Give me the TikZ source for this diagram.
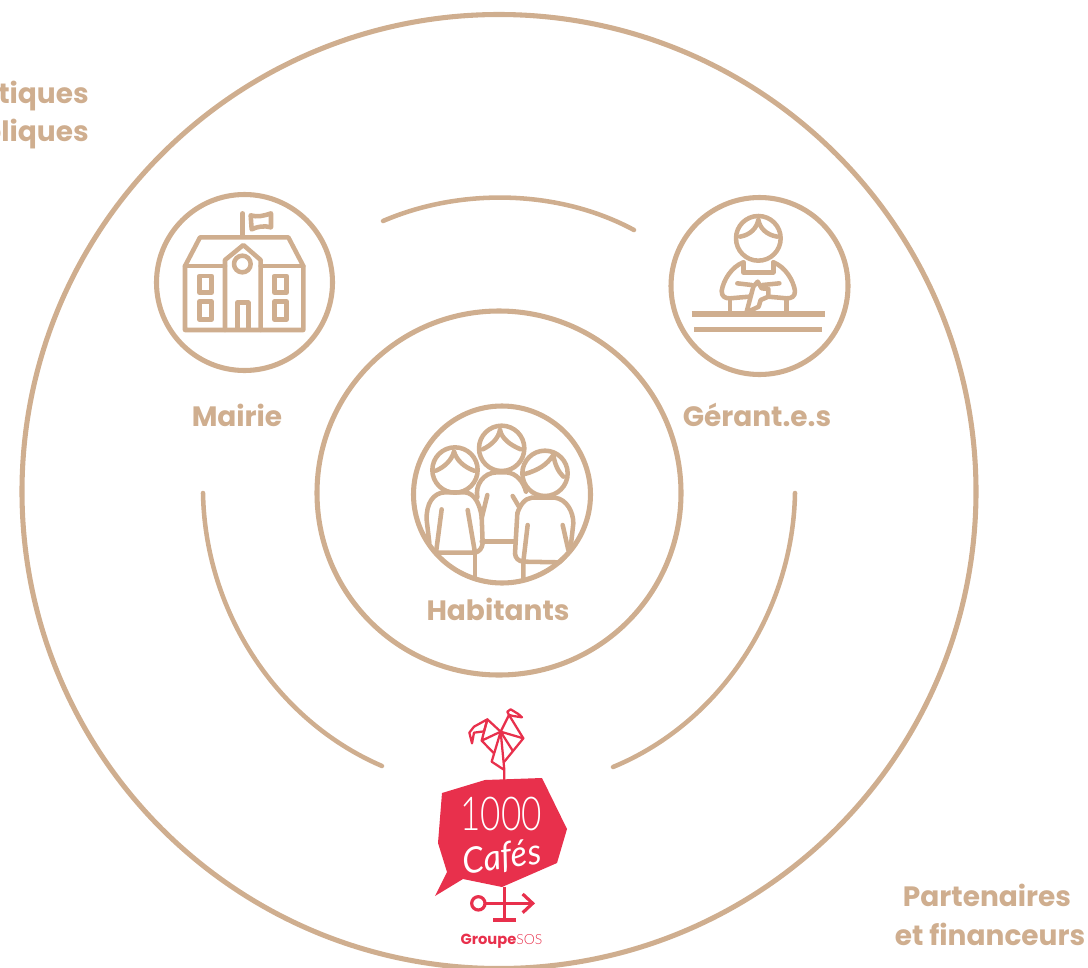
\documentclass[tikz,border=0pt]{standalone}
\usepackage{fontspec}
\setmainfont{Poppins}
\newfontfamily\logofont{Lato Light}
\newfontfamily\cafefont{Lato}
\usetikzlibrary{calc}
\definecolor{tan}{RGB}{207,174,143}
\definecolor{logored}{RGB}{232,48,76}
\tikzset{
  x=0.75pt,y=-0.75pt,
  ring/.style={circle,draw=tan,line width=3.8pt,minimum size=#1*0.75pt,inner sep=0pt},
  bigarc/.style={draw=tan,line width=3.4pt,line cap=round},
  ico/.style={draw=tan,line width=3.4pt,line cap=round,line join=round},
  lab/.style={text=tan,font=\bfseries\fontsize{21}{21}\selectfont,inner sep=0pt,anchor=base},
  rooster/.style={draw=logored,line width=1.7pt,line join=round,line cap=round},
  vane/.style={draw=logored,line width=2.4pt,line cap=butt},
}
\begin{document}
\begin{tikzpicture}
\useasboundingbox (0,0) rectangle (1088,967);
\clip (0,0) rectangle (1088,967);
% rings
\node[ring=954] (outer) at (499,491.5) {};
\node[ring=364] (inner) at (499,493) {};
\node[ring=176] (mairie) at (244.5,282.5) {};
\node[ring=177] (gerant) at (759.5,286) {};
\node[ring=177] (habit) at (502,494.5) {};
% arcs
\draw[bigarc] (383,221) .. controls (462,187) and (560,190) .. (634,230);
\draw[bigarc] (203,493) .. controls (205,610) and (275,720) .. (382,766);
\draw[bigarc] (795,493) .. controls (793,610) and (722,722) .. (613,767);
% labels
\node[lab] (lm) at (237,426) {Mairie};
\node[lab] (lg) at (757,426) {Gérant.e.s};
\node[lab] (lh) at (498,620) {Habitants};
\node[lab,anchor=base east] (l1) at (89,103) {tiques};
\node[lab,anchor=base east] (l2) at (89,141) {bliques};
\node[lab] (l3) at (987,906) {Partenaires};
\node[lab] (l4) at (990,945) {et financeurs};
% Mairie icon
\begin{scope}[shift={(140,180)},scale=1/3]
\draw[ico] (135,258) -- (135,450) -- (490,450) -- (490,258) -- (445,172) -- (180,172) -- cycle;
\draw[ico] (135,258) -- (255,258) (362,258) -- (490,258);
\draw[ico] (255,450) -- (255,240) -- (310,195) -- (362,240) -- (362,450);
\draw[ico] (307,252) circle (25);
\draw[ico] (292,445) -- (292,368) -- (325,368) -- (325,445);
\draw[ico] (178,288) rectangle (215,338);
\draw[ico] (178,365) rectangle (215,418);
\draw[ico] (403,288) rectangle (440,338);
\draw[ico] (403,365) rectangle (440,418);
\draw[ico] (308,170) -- (308,100);
\draw[ico] (332,106) .. controls (352,112) and (370,108) .. (393,100) -- (393,142) .. controls (372,136) and (352,140) .. (335,148) -- cycle;
\end{scope}
% Gerant icon
\begin{scope}[shift={(660,185)},scale=1/3]
\draw[ico] (295,160) circle (67);
\draw[ico] (295,105) .. controls (290,130) and (270,150) .. (240,155);
\draw[ico] (295,105) .. controls (300,130) and (320,150) .. (352,155);
\draw[ico] (250,232) .. controls (215,245) and (190,285) .. (185,318) .. controls (185,335) and (195,340) .. (210,340) -- (268,335);
\draw[ico] (340,232) .. controls (375,245) and (400,285) .. (405,318) .. controls (405,335) and (395,340) .. (380,340) -- (325,335);
\draw[ico] (250,232) -- (250,262) -- (340,262) -- (340,232);
\draw[ico] (232,295) -- (275,300);
\draw[ico] (358,295) -- (308,300);
\draw[ico] (260,380) -- (280,305) -- (293,290) -- (305,310) -- (325,312) -- (325,335) -- (302,345) -- (296,365) -- (275,375);
\draw[ico] (210,340) -- (210,380) (380,340) -- (380,380);
\draw[draw=tan,line width=4.2pt] (95,387) -- (495,387);
\draw[draw=tan,line width=4.2pt] (103,433) -- (487,433);
\end{scope}
% Habitants icon
\begin{scope}[shift={(400,410)},scale=1/3]
\draw[ico] (305,115) circle (68);
\draw[ico] (300,60) .. controls (295,85) and (275,105) .. (248,118);
\draw[ico] (300,60) .. controls (305,85) and (330,105) .. (362,118);
\draw[ico] (165,180) circle (68);
\draw[ico] (162,125) .. controls (155,150) and (135,170) .. (108,182);
\draw[ico] (162,125) .. controls (170,150) and (190,170) .. (222,182);
\draw[ico] (435,190) circle (68);
\draw[ico] (460,135) .. controls (440,165) and (415,180) .. (375,192);
\draw[ico] (460,135) .. controls (465,165) and (475,185) .. (490,200);
% middle body
\draw[ico] (232,262) .. controls (225,225) and (250,188) .. (290,187) -- (320,187) .. controls (350,190) and (370,215) .. (378,245);
\draw[ico] (262,255) -- (245,325);
\draw[ico] (338,258) -- (358,292);
\draw[ico] (245,395) -- (345,395);
% left body
\draw[ico] (88,398) -- (80,330) .. controls (78,280) and (100,248) .. (135,247) -- (195,247) .. controls (225,250) and (240,285) .. (245,320) -- (248,400) .. controls (246,415) and (238,425) .. (225,428);
\draw[ico] (125,298) -- (108,428) -- (225,428) -- (203,300);
\draw[ico] (225,428) -- (225,500);
% right body
\draw[ico] (352,310) .. controls (360,285) and (375,265) .. (395,263) -- (465,263) .. controls (500,268) and (520,305) .. (520,340) -- (512,412);
\draw[ico] (352,310) -- (345,430) .. controls (346,445) and (355,453) .. (370,455) -- (478,457) -- (495,440);
\draw[ico] (383,345) -- (370,455) -- (370,505);
\draw[ico] (488,345) -- (505,420);
\end{scope}
% Logo
\fill[logored] (442,793) -- (485,780) -- (542,778) -- (567,829) -- (557,863) -- (502,887) -- (463,879) -- (435,896) -- (447,872) -- (438,843) -- cycle;
\node[text=white,inner sep=0pt,font=\logofont\fontsize{35}{35}\selectfont,xscale=0.75] (t1) at (501,814) {1000};
\node[text=white,inner sep=0pt,font=\cafefont\itshape\fontsize{27}{27}\selectfont,rotate=8,xscale=0.95] (t2) at (502,858) {Cafés};
\node[text=logored,inner sep=0pt,anchor=base,font=\bfseries\fontsize{11}{11}\selectfont] (t3) at (501.5,944) {Groupe{\logofont\mdseries\fontsize{10.5}{10.5}\selectfont SOS}};
% rooster
\begin{scope}[shift={(460,700)},scale=1/3]
\draw[rooster] (133,240) -- (133,210) -- (95,185) -- (122,95) -- (133,210);
\draw[rooster] (133,185) -- (190,115) -- (122,95) -- (158,152);
\draw[rooster] (122,95) -- (82,58) -- (42,80) -- (28,98) -- (36,130) -- (42,98) -- (72,94) -- (82,58);
\draw[rooster] (82,58) -- (65,122) -- (122,95);
\draw[rooster] (65,122) -- (102,160);
\draw[rooster] (122,95) -- (147,45) -- (190,115);
\draw[rooster] (147,45) -- (142,35) -- (152,28) -- (175,42) -- (186,52) -- (160,48) -- cycle;
\end{scope}
% vane
\begin{scope}[shift={(420,820)},scale=1/3]
\draw[vane] (253,200) -- (253,300);
\draw[vane] (220,300) -- (288,300);
\draw[vane] (195,250) -- (338,250);
\draw[vane] (175,250) circle (20);
\draw[vane] (308,222) -- (338,250) -- (308,278);
\end{scope}
\end{tikzpicture}
\end{document}
